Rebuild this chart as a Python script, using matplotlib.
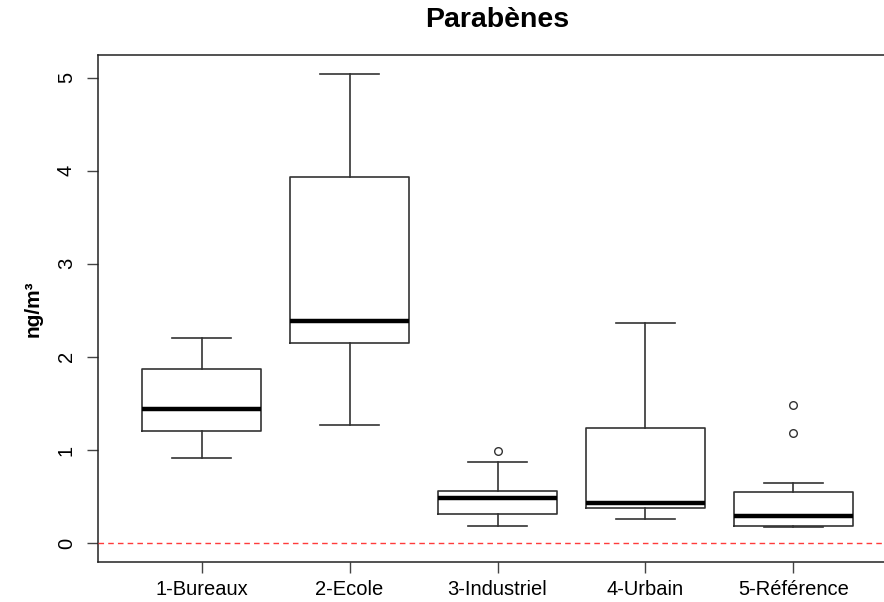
import matplotlib
matplotlib.use('Agg')
import matplotlib.pyplot as plt

plt.rcParams['font.family'] = ['Liberation Sans', 'DejaVu Sans']

# data (ng/m3)
groups = ['1-Bureaux', '2-Ecole', '3-Industriel', '4-Urbain', '5-Référence']
whislo = [0.91, 1.27, 0.19, 0.265, 0.17]
q1 = [1.20, 2.15, 0.31, 0.375, 0.18]
med = [1.44, 2.39, 0.49, 0.435, 0.29]
q3 = [1.87, 3.93, 0.56, 1.24, 0.55]
whishi = [2.20, 5.04, 0.875, 2.36, 0.65]
fliers = [[], [], [0.99], [], [1.18, 1.48]]

stats = []
for i in range(len(groups)):
    stats.append(dict(label=groups[i], whislo=whislo[i], q1=q1[i], med=med[i],
                      q3=q3[i], whishi=whishi[i], fliers=fliers[i]))

fig = plt.figure(figsize=(8.84, 6.02), dpi=100)
ax = fig.add_axes([98/884, 1 - 562/602, (897 - 98)/884, (562 - 55)/602])

lc = '#333333'
ax.bxp(stats, positions=range(1, 6), widths=0.8, capwidths=0.4,
       boxprops=dict(color=lc, lw=1.2),
       whiskerprops=dict(color=lc, lw=1.2),
       capprops=dict(color=lc, lw=1.2),
       medianprops=dict(color='black', lw=3.2, solid_capstyle='butt'),
       flierprops=dict(marker='o', markerfacecolor='none', markeredgecolor=lc,
                       markersize=5.5, markeredgewidth=1.0))

ax.axhline(0, color='#ff3b3b', lw=1.0, dashes=(4, 3), zorder=5)

ax.set_xlim(0.3, 5.7)
ax.set_ylim(-0.2016, 5.2416)
ax.set_yticks([0, 1, 2, 3, 4, 5])
ax.set_xticks(range(1, 6))
ax.set_xticklabels(groups, fontsize=14.5)
for t in ax.get_yticklabels():
    t.set_rotation(90)
    t.set_va('center')
    t.set_fontsize(14.5)
ax.tick_params(axis='both', direction='out', length=8, width=1, color='#444444')
ax.tick_params(axis='x', pad=5)
ax.tick_params(axis='y', pad=8)
for s in ax.spines.values():
    s.set_color('#222222')
    s.set_linewidth(1.1)

ax.set_ylabel('ng/m³', fontsize=15, fontweight='bold', labelpad=10)
ax.set_title('Parabènes', fontsize=20.5, fontweight='bold', pad=20)

fig.savefig('out.png', dpi=100)
